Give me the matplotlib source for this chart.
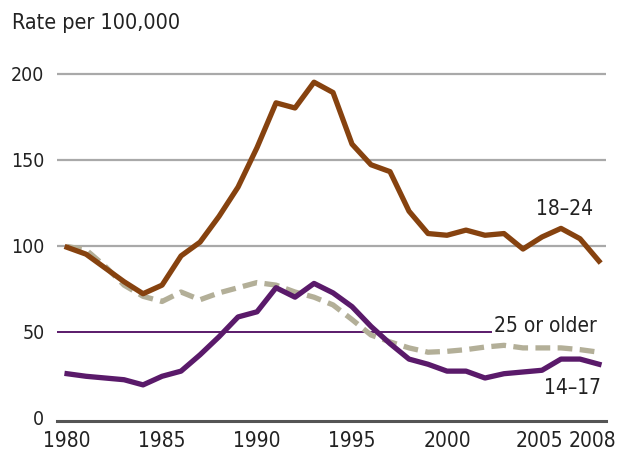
import numpy as np
import matplotlib
matplotlib.use("Agg")
import matplotlib.pyplot as plt
from matplotlib.transforms import ScaledTranslation

plt.rcParams['font.family'] = ['DejaVu Sans']
plt.rcParams['font.stretch'] = 'condensed'

# rates per 100,000, 1980-2008
years = np.arange(1980, 2009)
age_18_24 = [99, 95, 87, 79, 72, 77, 94, 102, 117, 134, 157, 183, 180, 195, 189,
             159, 147, 143, 120, 107, 106, 109, 106, 107, 98, 105, 110, 104, 91]
age_14_17 = [25.5, 24, 23, 22, 19, 24, 27, 36.5, 47, 58.5, 61.5, 75.5, 70, 78, 72.5,
             64.5, 53, 43, 34, 31, 27, 27, 23, 25.5, 26.5, 27.5, 34, 34, 31]
age_25_up = [99.5, 97.5, 88, 77, 70.5, 67.5, 73, 68.5, 72.5, 75.5, 78.5, 77, 73, 70,
             65.5, 57, 48, 44, 40.5, 38, 38.5, 39.5, 41, 42, 40.5, 40.5, 40.5, 39.5, 38]

yticks = [0, 50, 100, 150, 200]
xticks = [1980, 1985, 1990, 1995, 2000, 2005, 2008]

brown = '#86420f'
purple = '#5a1a6a'
khaki = '#b3af98'
ink = '#222222'

fig = plt.figure(figsize=(6.21, 4.54), dpi=100)
ax = fig.add_axes([57/621, 1 - 421/454, (606-57)/621, (421-65)/454])

ax.set_xlim(1979.47, 2008.37)
ax.set_ylim(-2, 205)

# gridlines (50 is drawn purple and ends at its label)
for v in [100, 150, 200]:
    ax.axhline(v, color='#a9a9a9', lw=1.6, zorder=1)
ax.plot([1979.47, 2002.3], [50, 50], color=purple, lw=1.4, zorder=1)

ax.plot(years, age_25_up, color=khaki, lw=3.8, dashes=(2.8, 1.4), zorder=2,
        solid_capstyle='butt')
ax.plot(years, age_14_17, color=purple, lw=3.8, zorder=3, solid_joinstyle='round')
ax.plot(years, age_18_24, color=brown, lw=3.8, zorder=4, solid_joinstyle='round')

for s in ['top', 'right', 'left']:
    ax.spines[s].set_visible(False)
ax.spines['bottom'].set_color('#555555')
ax.spines['bottom'].set_linewidth(2.2)

ax.set_yticks(yticks)
ax.set_xticks(xticks)
ax.set_xticklabels([str(x) for x in xticks])
ax.tick_params(axis='both', length=0, colors=ink)
ax.tick_params(axis='y', pad=9, labelsize=14)
ax.tick_params(axis='x', pad=7, labelsize=15)

# nudge the last two year labels left, as in the original
for lbl, dx in zip(ax.get_xticklabels()[-2:], [-3, -7]):
    lbl.set_transform(lbl.get_transform() + ScaledTranslation(dx/100, 0, fig.dpi_scale_trans))

ax.text(2006.2, 121, '18\u201324', fontsize=15, ha='center', va='center', color=ink)
ax.text(2002.5, 53, '25 or older', fontsize=15, ha='left', va='center', color=ink)
ax.text(2006.6, 17, '14\u201317', fontsize=15, ha='center', va='center', color=ink)

fig.text(12/621, 1 - 23/454, 'Rate per 100,000', fontsize=15.5, ha='left', va='center',
         color=ink)

fig.savefig('out.png', dpi=100)
